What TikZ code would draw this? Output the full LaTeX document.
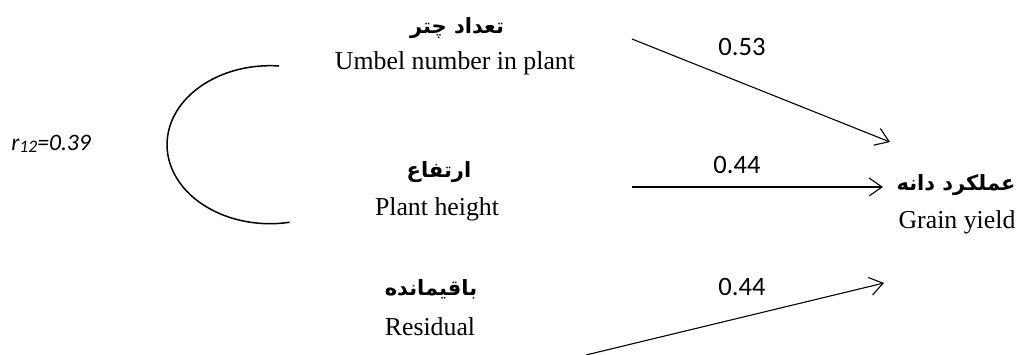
\documentclass[tikz,border=0pt]{standalone}
\usepackage{fontspec}
\usetikzlibrary{arrows.meta}
\TeXXeTstate=1
\setmainfont{Liberation Serif}
\newfontfamily\arabicfont[Script=Arabic]{DejaVu Sans}
\newfontfamily\numfont{Carlito}
\begin{document}
\begin{tikzpicture}[x=0.5pt,y=-0.5pt,
  fa/.style={font=\arabicfont\bfseries\fontsize{10.5}{12}\selectfont, anchor=base, inner sep=0pt},
  en/.style={font=\fontsize{12.9}{15}\selectfont, anchor=base, inner sep=0pt},
  num/.style={font=\numfont\fontsize{13.3}{15}\selectfont, anchor=base, inner sep=0pt},
  conn/.style={line width=0.55pt, -{Straight Barb[length=6.5pt,width=9pt,line width=0.55pt]}},
  corr/.style={line width=0.75pt}]
\useasboundingbox (0,0) rectangle (1024,354);
% labels
\node[fa] (umbfa) at (457,33) {\beginR تعداد چتر\endR};
\node[en] (umb) at (455,69) {Umbel number in plant};
\node[fa] (htfa) at (439,177) {\beginR ارتفاع\endR};
\node[en] (ht) at (437,215) {Plant height};
\node[fa] (resfa) at (431,295) {\beginR باقیمانده\endR};
\node[en] (res) at (430,335) {Residual};
\node[fa] (gyfa) at (956,190) {\beginR عملکرد دانه\endR};
\node[en] (gy) at (957,228) {Grain yield};
\node[num, anchor=base west, font=\numfont\itshape\fontsize{11.8}{14}\selectfont] (r12) at (11,150) {r\raisebox{-0.25ex}{\fontsize{8.8}{11}\selectfont 12}=0.39};
% coefficients
\node[num] (c1) at (742,55) {0.53};
\node[num] (c2) at (737,173) {0.44};
\node[num] (c3) at (742,295) {0.44};
% arrow end points
\coordinate (a1s) at (632,39);
\coordinate (a1e) at (890,142);
\coordinate (a2s) at (632,187);
\coordinate (a2e) at (883,187);
\coordinate (a3s) at (586,355);
\coordinate (a3e) at (884,283);
\draw[conn] (a1s) -- (a1e);
\draw[conn] (a2s) -- (a2e);
\draw[conn] (a3s) -- (a3e);
% correlation arc
\coordinate (arcs) at (279,66);
\draw[corr] (arcs) arc[start angle=-85, end angle=-281, x radius=103, y radius=79];
\end{tikzpicture}
\end{document}
